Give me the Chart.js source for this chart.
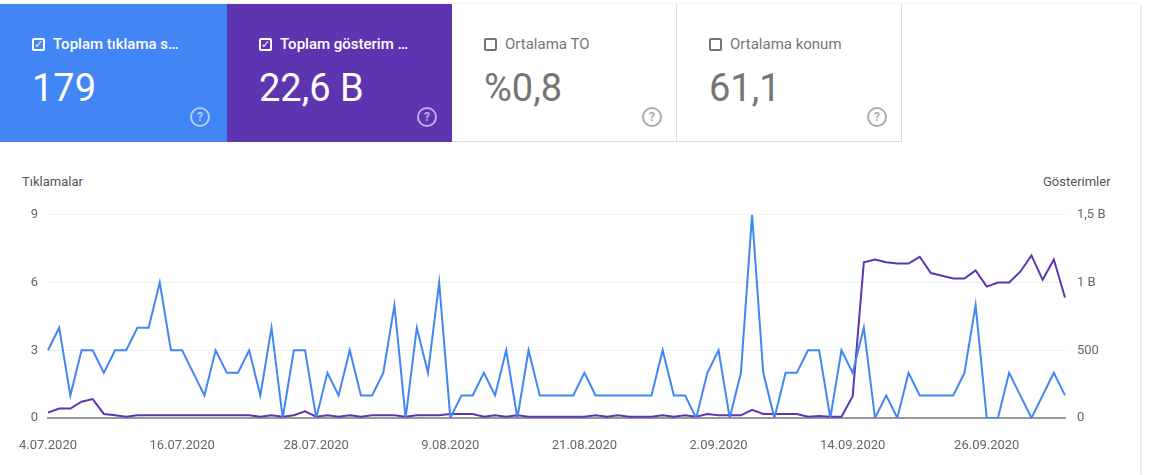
<!DOCTYPE html>
<html>
<head>
<meta charset="utf-8">
<script src="https://cdn.jsdelivr.net/npm/chart.js@4"></script>
<style>
	body { margin: 0; background: #fff; font-family: Roboto, sans-serif; }
	.wrap { position: absolute; left: 0; top: 4px; width: 1140px; height: 471px; box-shadow: 0 1px 3px rgba(0,0,0,0.25); }
	.card { position: absolute; top: 0; width: 225px; height: 138px; box-sizing: border-box; border-right: 1px solid #ddd; border-bottom: 1px solid #ddd; }
	.card .t { position: absolute; left: 32px; top: 31px; font-size: 15px; display: flex; align-items: center; white-space: nowrap; }
	.card .t i { display: inline-block; width: 13px; height: 13px; border: 2px solid currentColor; border-radius: 2px; margin-right: 8px; box-sizing: border-box; font-style: normal; font-size: 11px; line-height: 9px; text-align: center; }
	.card .v { position: absolute; left: 32px; top: 62px; font-size: 38px; }
	.card .q { position: absolute; left: 190px; top: 103px; width: 16px; height: 16px; border: 2px solid currentColor; border-radius: 50%; font-size: 12px; text-align: center; line-height: 16px; opacity: 0.6; font-weight: bold; }
	.sel { color: #fff; border: none; }
	.off { color: #757575; }
	.axt { position: absolute; top: 174px; font-size: 13px; color: #555; }
	#box { position: absolute; left: 0; top: 195px; width: 1135px; height: 260px; }
</style>
</head>
<body>
<div class="wrap">
	<div class="card sel" style="left:0;width:227px;height:138px;background:#4285f4"><div class="t" style="font-weight:500"><i>✓</i>Toplam tıklama s…</div><div class="v">179</div><div class="q">?</div></div>
	<div class="card sel" style="left:227px;height:138px;background:#5e35b1"><div class="t" style="font-weight:500"><i>✓</i>Toplam gösterim …</div><div class="v">22,6 B</div><div class="q">?</div></div>
	<div class="card off" style="left:452px"><div class="t"><i></i>Ortalama TO</div><div class="v">%0,8</div><div class="q">?</div></div>
	<div class="card off" style="left:677px"><div class="t"><i></i>Ortalama konum</div><div class="v">61,1</div><div class="q">?</div></div>
</div>
<div class="axt" style="left:22px">Tıklamalar</div>
<div class="axt" style="left:1043px">Gösterimler</div>
<div id="box"><canvas id="c"></canvas></div>
<script>
const startDate = [2020, 6, 4];
const clicks = [3,4,1,3,3,2,3,3,4,4,6,3,3,2,1,3,2,2,3,1,4,0,3,3,0,2,1,3,1,1,2,
	5,0,4,2,6,0,1,1,2,1,3,0,3,1,1,1,1,2,1,1,1,1,1,1,3,1,1,0,2,
	3,0,2,9,2,0,2,2,3,3,0,3,2,4,0,1,0,2,1,1,1,1,2,5,0,0,2,1,0,1,2,1];
// impressions in billions
const impressions = [0.04,0.07,0.07,0.12,0.14,0.03,0.02,0.01,0.02,0.02,0.02,0.02,0.02,0.02,0.02,0.02,0.02,0.02,0.02,0.01,0.02,0.01,0.02,0.05,0.01,0.02,0.01,0.02,0.01,0.02,0.02,
	0.02,0.01,0.02,0.02,0.02,0.03,0.03,0.03,0.01,0.02,0.01,0.02,0.01,0.01,0.01,0.01,0.01,0.01,0.02,0.01,0.02,0.01,0.01,0.01,0.02,0.01,0.02,0.01,0.03,
	0.02,0.02,0.02,0.06,0.03,0.03,0.03,0.03,0.01,0.015,0.01,0.01,0.16,1.15,1.17,1.15,1.14,1.14,1.19,1.07,1.05,1.03,1.03,1.09,0.97,1.0,1.0,1.08,1.2,1.02,1.17,0.89];
const rightTicks = ['0', '500', '1 B', '1,5 B'];

const labels = clicks.map((v, i) => {
	const d = new Date(startDate[0], startDate[1], startDate[2] + i);
	return d.getDate() + '.' + String(d.getMonth() + 1).padStart(2, '0') + '.' + d.getFullYear();
});

const tickFont = { family: 'Roboto', size: 13 };

new Chart(document.getElementById('c'), {
	type: 'line',
	data: {
		labels: labels,
		datasets: [
			{ data: clicks, borderColor: '#4285f4', yAxisID: 'y', borderWidth: 2, pointRadius: 0, tension: 0 },
			{ data: impressions, borderColor: '#5e35b1', yAxisID: 'y1', borderWidth: 2, pointRadius: 0, tension: 0 },
		],
	},
	options: {
		animation: false,
		responsive: true,
		maintainAspectRatio: false,
		layout: { padding: { top: 8, right: 0 } },
		plugins: { legend: { display: false }, tooltip: { enabled: false } },
		scales: {
			x: {
				grid: { display: false },
				border: { color: '#999', width: 2 },
				ticks: {
					autoSkip: false, maxRotation: 0, color: '#666', font: tickFont, padding: 12,
					callback: (v, i) => (i % 12 === 0 ? labels[i] : null),
				},
				afterFit: (s) => { s.height = 37; },
			},
			y: {
				min: 0, max: 9,
				ticks: { stepSize: 3, color: '#666', font: tickFont, padding: 10 },
				grid: { color: '#eee', drawTicks: false },
				border: { display: false },
				afterFit: (s) => { s.width = 48; },
			},
			y1: {
				position: 'right', min: 0, max: 1.5,
				ticks: { stepSize: 0.5, color: '#666', font: tickFont, padding: 12, callback: (v, i) => rightTicks[i] },
				grid: { display: false, drawTicks: false },
				border: { display: false },
				afterFit: (s) => { s.width = 70; },
			},
		},
	},
});
</script>
</body>
</html>
